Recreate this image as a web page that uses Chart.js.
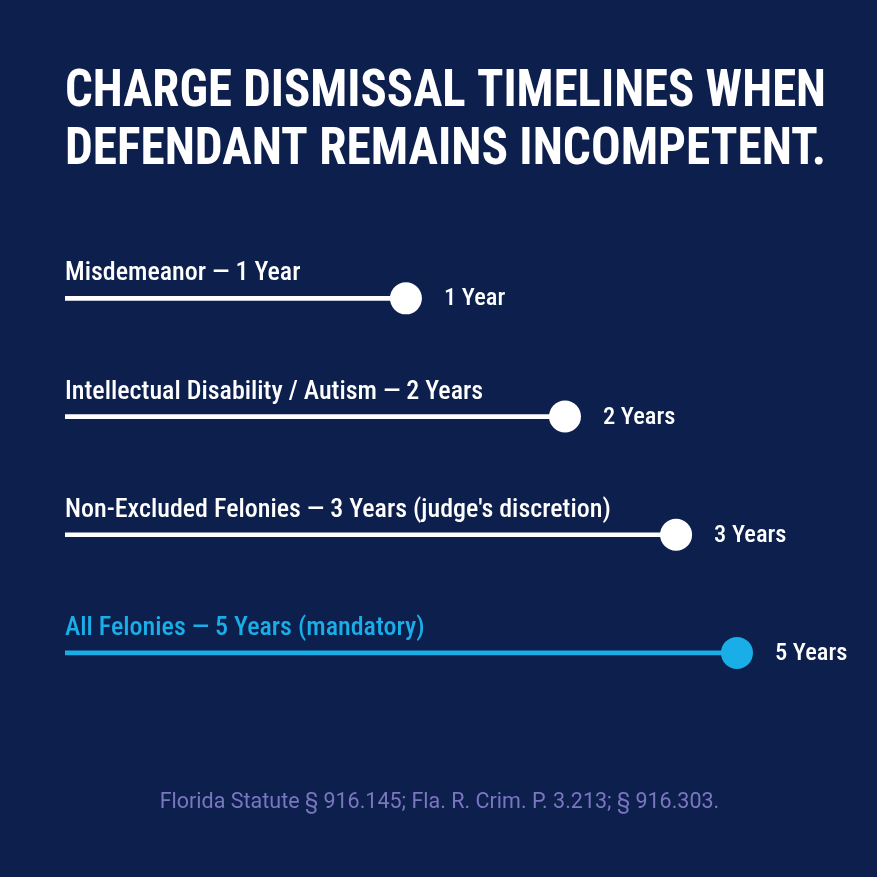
<!DOCTYPE html>
<html><head><meta charset="utf-8">
<script src="https://cdn.jsdelivr.net/npm/chart.js@4.4.1/dist/chart.umd.min.js"></script>
<style>
html,body{margin:0;padding:0;background:#0c1f4d;}
#wrap{width:877px;height:877px;position:relative;}
</style></head>
<body><div id="wrap"><canvas id="c" width="877" height="877"></canvas></div>
<script>
const categories = [
  "Misdemeanor — 1 Year",
  "Intellectual Disability / Autism — 2 Years",
  "Non-Excluded Felonies — 3 Years (judge's discretion)",
  "All Felonies — 5 Years (mandatory)"
];
const years = [1, 2, 3, 5];
const valueLabels = ["1 Year", "2 Years", "3 Years", "5 Years"];
// position of each marker along the track as drawn (percent of track)
const trackPosition = [44.8, 65.7, 80.3, 88.3];
const titleLines = ["CHARGE DISMISSAL TIMELINES WHEN", "DEFENDANT REMAINS INCOMPETENT."];
const sourceNote = "Florida Statute § 916.145; Fla. R. Crim. P. 3.213; § 916.303.";

const WHITE = "#ffffff", CYAN = "#1aaee8", BG = "#0c1f4d";
const colors = years.map((y, i) => i === years.length - 1 ? CYAN : WHITE);
const COND = "'Liberation Sans Narrow', 'Roboto Condensed', 'DejaVu Sans Condensed', Roboto, sans-serif";

const bgPlugin = {
  id: 'bg',
  beforeDraw(chart) {
    const ctx = chart.ctx;
    ctx.save(); ctx.fillStyle = BG; ctx.fillRect(0, 0, chart.width, chart.height); ctx.restore();
  }
};
const textPlugin = {
  id: 'texts',
  afterDatasetsDraw(chart) {
    const ctx = chart.ctx;
    const xs = chart.scales.x, ys = chart.scales.y;
    ctx.save();
    ctx.textAlign = 'left';
    categories.forEach((lab, i) => {
      const y = ys.getPixelForValue(i);
      ctx.fillStyle = colors[i];
      ctx.font = "500 26px " + COND;
      ctx.textBaseline = 'alphabetic';
      ctx.fillText(lab, xs.getPixelForValue(0), y - 18);
      ctx.fillStyle = WHITE;
      ctx.font = "500 24.5px " + COND;
      ctx.textBaseline = 'middle';
      ctx.fillText(valueLabels[i], xs.getPixelForValue(trackPosition[i]) + 38, y + 1);
    });
    ctx.textAlign = 'center';
    ctx.textBaseline = 'middle';
    ctx.fillStyle = "#7b76c0";
    ctx.font = "21.5px Roboto, sans-serif";
    ctx.fillText(sourceNote, chart.width / 2 + 1, 803);
    ctx.restore();
  }
};

new Chart(document.getElementById('c'), {
  type: 'bar',
  data: {
    labels: categories,
    datasets: [
      { type: 'bar', data: trackPosition, backgroundColor: colors, barThickness: 4, borderWidth: 0, order: 2 },
      { type: 'line', data: trackPosition, showLine: false, pointRadius: 16, pointHoverRadius: 16,
        pointBackgroundColor: colors, pointBorderWidth: 0, order: 1 }
    ]
  },
  options: {
    indexAxis: 'y',
    responsive: false,
    animation: false,
    layout: { padding: { left: 65, right: 51, top: 0, bottom: 165 } },
    scales: {
      x: { display: false, min: 0, max: 100 },
      y: { display: false, offset: true }
    },
    plugins: {
      legend: { display: false },
      tooltip: { enabled: false },
      title: {
        display: true, text: titleLines, align: 'start', color: WHITE,
        font: { family: COND, size: 51, weight: 'bold', lineHeight: 1.14 },
        padding: { top: 64, bottom: 59 }
      }
    }
  },
  plugins: [bgPlugin, textPlugin]
});
</script></body></html>
